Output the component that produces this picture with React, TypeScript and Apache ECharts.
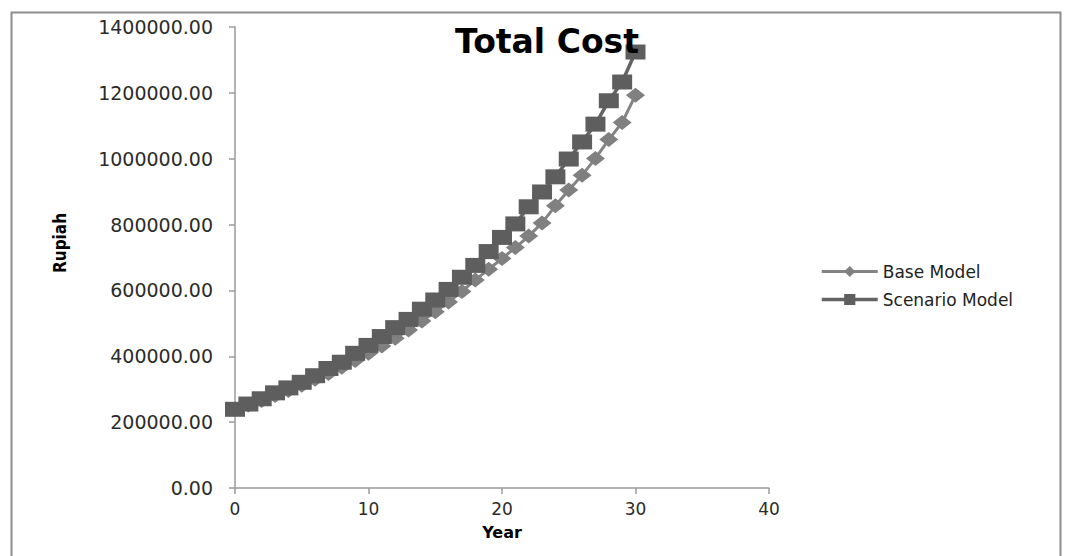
import React, { useEffect, useRef } from "react";
import * as echarts from "echarts";

const years = [0, 1, 2, 3, 4, 5, 6, 7, 8, 9, 10, 11, 12, 13, 14, 15, 16, 17, 18, 19, 20, 21, 22, 23, 24, 25, 26, 27, 28, 29, 30];

const baseModel = [
  239000, 252000, 266000, 281000, 296000, 312000, 330000, 348000, 367000, 387000,
  409000, 431000, 455000, 480000, 507000, 535000, 565000, 597000, 632000, 664000,
  697000, 730000, 765000, 805000, 857000, 905000, 950000, 1001000, 1058000, 1110000,
  1193000,
];

const scenarioModel = [
  239000, 255000, 271000, 289000, 304000, 321000, 341000, 363000, 382000, 409000,
  433000, 460000, 487000, 512000, 543000, 571000, 603000, 640000, 676000, 718000,
  761000, 802000, 854000, 899000, 945000, 999000, 1051000, 1105000, 1176000, 1233000,
  1324000,
];

const seriesNames = ["Base Model", "Scenario Model"];
const xTicks = { min: 0, max: 40, interval: 10 };
const yTicks = { min: 0, max: 1400000, interval: 200000 };

export default function App() {
  const ref = useRef<HTMLDivElement>(null);

  useEffect(() => {
    if (!ref.current) return;
    const chart = echarts.init(ref.current, undefined, { renderer: "svg" });
    const axisColor = "#9a9a9a";
    const labelColor = "#2b2b2b";
    chart.setOption({
      animation: false,
      backgroundColor: "#ffffff",
      title: {
        text: "Total Cost",
        left: 542,
        textAlign: "center",
        top: 20,
        textStyle: {
          fontFamily: "DejaVu Sans",
          fontWeight: "bold",
          fontSize: 33,
          color: "#000000",
        },
      },
      legend: {
        orient: "vertical",
        left: 815,
        top: 258,
        itemWidth: 56,
        itemHeight: 14,
        itemGap: 11,
        data: [
          { name: seriesNames[0], lineStyle: { width: 3 } },
          { name: seriesNames[1], lineStyle: { width: 3.5 } },
        ],
        textStyle: {
          fontFamily: "DejaVu Sans",
          fontSize: 17,
          color: "#222222",
        },
      },
      grid: { left: 235, right: 297, top: 27, bottom: 68 },
      xAxis: {
        type: "value",
        min: xTicks.min,
        max: xTicks.max,
        interval: xTicks.interval,
        name: "Year",
        nameLocation: "middle",
        nameGap: 36,
        nameTextStyle: {
          fontFamily: "DejaVu Sans",
          fontWeight: "bold",
          fontSize: 16,
          color: "#000000",
        },
        splitLine: { show: false },
        axisLine: { show: true, lineStyle: { color: axisColor, width: 1.5 } },
        axisTick: { show: true, inside: false, length: 6, lineStyle: { color: axisColor, width: 1.5 } },
        axisLabel: {
          margin: 12,
          fontFamily: "DejaVu Sans",
          fontSize: 17,
          color: labelColor,
        },
      },
      yAxis: {
        type: "value",
        min: yTicks.min,
        max: yTicks.max,
        interval: yTicks.interval,
        splitLine: { show: false },
        axisLine: { show: true, lineStyle: { color: axisColor, width: 1.5 } },
        axisTick: { show: true, inside: false, length: 6, lineStyle: { color: axisColor, width: 1.5 } },
        axisLabel: {
          margin: 22,
          fontFamily: "DejaVu Sans",
          fontSize: 19,
          color: labelColor,
          formatter: (v: number) => v.toFixed(2),
        },
      },
      graphic: [
        {
          type: "rect",
          left: 9,
          top: 10,
          shape: { x: 0, y: 0, width: 1049, height: 560 },
          style: { fill: "none", stroke: "#8c8c8c", lineWidth: 2 },
          silent: true,
          z: -1,
        },
        {
          type: "text",
          x: 60,
          y: 243,
          rotation: Math.PI / 2,
          style: {
            text: "Rupiah",
            textAlign: "center",
            textVerticalAlign: "middle",
            fontFamily: "Liberation Sans Narrow, DejaVu Sans Condensed, sans-serif",
            fontWeight: "bold",
            fontSize: 17,
            fill: "#000000",
          },
        },
      ],
      series: [
        {
          name: seriesNames[0],
          type: "line",
          data: years.map((y, i) => [y, baseModel[i]]),
          symbol: "diamond",
          symbolSize: [19, 15],
          lineStyle: { color: "#848484", width: 3 },
          itemStyle: { color: "#808080" },
          z: 2,
        },
        {
          name: seriesNames[1],
          type: "line",
          data: years.map((y, i) => [y, scenarioModel[i]]),
          symbol: "rect",
          symbolSize: [20, 15],
          lineStyle: { color: "#646464", width: 3.5 },
          itemStyle: { color: "#5e5e5e" },
          z: 3,
        },
      ],
    });
    return () => chart.dispose();
  }, []);

  return (
    <div
      ref={ref}
      style={{ position: "fixed", left: 0, top: 0, width: 1066, height: 556 }}
    />
  );
}
